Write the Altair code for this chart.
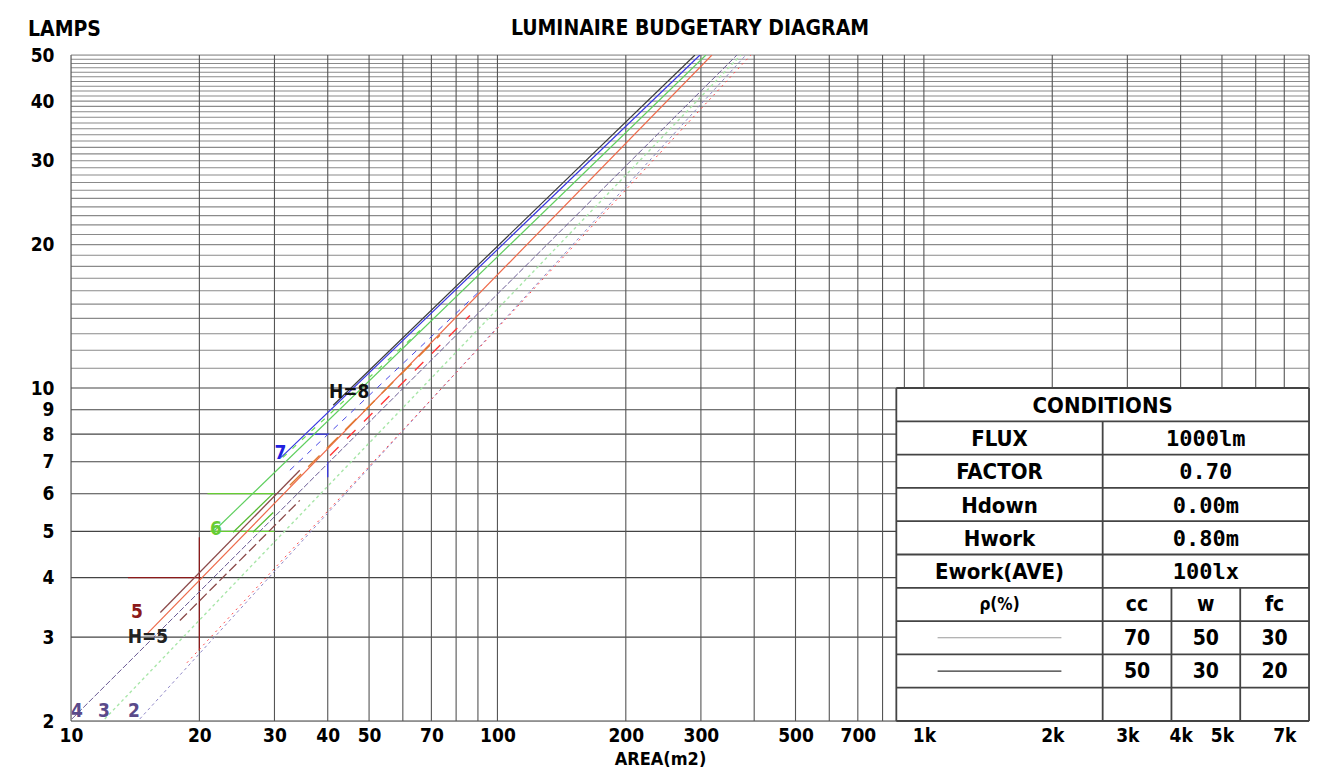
import altair as alt
import pandas as pd

FONT = "DejaVu Sans Condensed, DejaVu Sans, sans-serif"
MONO = "DejaVu Sans Mono, monospace"
W, H = 1238, 666

# ---------------- data ----------------
chart_title = "LUMINAIRE BUDGETARY DIAGRAM"
x_grid = [10, 20, 30, 40, 50, 60, 70, 80, 90, 100, 200, 300, 400, 500, 600, 700, 800, 900,
          1000, 2000, 3000, 4000, 5000, 6000, 7000, 8000]
y_grid = list(range(2, 51))
x_ticks = [10, 20, 30, 40, 50, 70, 100, 200, 300, 500, 700, 1000, 2000, 3000, 4000, 5000, 7000]
y_ticks = [2, 3, 4, 5, 6, 7, 8, 9, 10, 20, 30, 40, 50]

# diagonal curves: (area, lamps) end points
line_names = ["H8", "H7", "H6", "H5", "H4", "H3", "H2", "H2b",
              "E1", "E2", "E3", "E4", "E5", "E6", "E7", "E8"]
line_area = [[41.2, 290.5], [31.1, 298.5], [21.5, 308.3], [15.1, 318.4],
             [10.05, 364.4], [12.0, 372.3], [14.5, 382.5], [18.7, 393.0],
             [32.6, 91.0], [32.6, 73.3], [40.5, 86.2], [16.2, 34.4],
             [18.0, 34.4], [24.0, 29.8], [26.7, 29.8], [31.4, 65.8]]
line_lamps = [[9.20, 50], [7.15, 50], [4.98, 50], [3.05, 50],
              [2.02, 50], [2.02, 50], [2.02, 50], [2.65, 50],
              [6.72, 16.0], [6.25, 12.9], [7.22, 14.2], [3.38, 6.72],
              [3.25, 5.81], [4.98, 6.01], [4.98, 5.48], [7.15, 13.2]]

# step markers (horizontal / vertical)
step_names = ["h5h", "h5v", "h6a", "h6b", "h7v", "h7h"]
step_area = [[13.6, 20], [20, 20], [21.2, 30], [20.9, 30], [40, 40], [36, 40]]
step_lamps = [[4, 4], [2.81, 4.86], [5, 5], [6, 6], [6.5, 7], [8, 8]]

# curve labels
label_text = ["4", "3", "2", "5", "H=5", "6", "7", "H=8"]
label_area = [10.33, 11.95, 14.05, 14.28, 15.15, 21.88, 31.0, 44.9]
label_lamps = [2.10, 2.10, 2.10, 3.38, 3.00, 5.07, 7.29, 9.80]

# conditions table
cond_keys = ["FLUX", "FACTOR", "Hdown", "Hwork", "Ework(AVE)"]
cond_vals = ["1000lm", "0.70", "0.00m", "0.80m", "100lx"]
rho_heads = ["cc", "w", "fc"]
rho_row1 = ["70", "50", "30"]
rho_row2 = ["50", "30", "20"]

# ---------------- styles ----------------
LINE_STYLE = {
    "H8": ("#3a3a3a", 1.2, None),
    "H7": ("#3535e0", 1.2, None),
    "H6": ("#5fcf5f", 1.2, None),
    "H5": ("#ee6a4a", 1.2, None),
    "H4": ("#6b5b95", 1.0, [6, 2]),
    "H3": ("#a8e6a8", 1.4, [3, 3]),
    "H2": ("#9088c8", 1.0, [3, 3]),
    "H2b": ("#ff4a4a", 1.0, [2, 4]),
    "E1": ("#4a4ae6", 1.0, [6, 6]),
    "E2": ("#e07a30", 1.4, [16, 10]),
    "E3": ("#ff3a3a", 1.4, [12, 12]),
    "E4": ("#8b4a4a", 1.3, None),
    "E5": ("#8b4a4a", 1.3, [10, 4]),
    "E6": ("#55bb33", 1.3, None),
    "E7": ("#55bb33", 1.3, None),
    "E8": ("#66dd55", 1.2, [5, 8]),
}
STEP_STYLE = {
    "h5h": "#8b1a1a", "h5v": "#8b1a1a", "h6a": "#66cc33", "h6b": "#66cc33",
    "h7v": "#3535e0", "h7h": "#3535e0",
}
LABEL_STYLE = {
    "4": "#5a4a8a", "3": "#5a4a8a", "2": "#5a4a8a", "5": "#8b1a1a", "H=5": "#222222",
    "6": "#66cc33", "7": "#2020e0", "H=8": "#111111",
}

xs = alt.Scale(type="log", domain=[10, 8000], nice=False)
ys = alt.Scale(type="log", domain=[2, 50], nice=False)

x_axis = alt.Axis(values=x_ticks, grid=False, ticks=False, domain=False,
                  labelExpr="datum.value >= 1000 ? (datum.value/1000) + 'k' : '' + datum.value",
                  labelFont=FONT, labelFontSize=19, labelFontWeight="bold", labelColor="#000",
                  labelPadding=5, labelOverlap=False, labelFlush=False,
                  title="AREA(m2)", titleFont=FONT, titleFontSize=18, titleFontWeight="bold",
                  titleX=589, titleY=38, titleBaseline="middle", titleColor="#000")
y_axis = alt.Axis(values=y_ticks, grid=False, ticks=False, domain=False,
                  labelExpr="'' + datum.value",
                  labelFont=FONT, labelFontSize=19, labelFontWeight="bold", labelColor="#000",
                  labelPadding=17, labelOverlap=False, labelFlush=False,
                  title="LAMPS", titleFont=FONT, titleFontSize=21, titleFontWeight="bold",
                  titleAngle=0, titleX=-7, titleY=-26, titleAlign="center",
                  titleBaseline="middle", titleColor="#000")


def X(f):
    return alt.X(f, scale=xs, axis=x_axis)


def Y(f):
    return alt.Y(f, scale=ys, axis=y_axis)


# vertical grid
vg = pd.DataFrame({"A": x_grid, "n0": 2, "n1": 50})
grid_v = alt.Chart(vg).mark_rule(color="#555555", strokeWidth=1.1).encode(
    x=X("A:Q"), y=Y("n0:Q"), y2="n1:Q")
# horizontal grid
hg = pd.DataFrame({"N": y_grid, "a0": 10, "a1": 8000})
grid_h = alt.Chart(hg).mark_rule(strokeWidth=1.1).encode(
    y=Y("N:Q"), x=X("a0:Q"), x2="a1:Q",
    color=alt.condition("datum.N <= 10", alt.value("#444444"), alt.value("#8a8a8a")),
)

layers = [grid_h, grid_v]

for i, name in enumerate(step_names):
    df = pd.DataFrame({"A": step_area[i], "N": step_lamps[i]})
    layers.append(alt.Chart(df).mark_line(color=STEP_STYLE[name], strokeWidth=1.3).encode(
        x=X("A:Q"), y=Y("N:Q")))

for i, name in enumerate(line_names):
    df = pd.DataFrame({"A": line_area[i], "N": line_lamps[i]})
    col, sw, dash = LINE_STYLE[name]
    kw = dict(color=col, strokeWidth=sw, clip=True)
    if dash:
        kw["strokeDash"] = dash
    layers.append(alt.Chart(df).mark_line(**kw).encode(x=X("A:Q"), y=Y("N:Q")))

for i, t in enumerate(label_text):
    df = pd.DataFrame({"A": [label_area[i]], "N": [label_lamps[i]], "t": [t]})
    layers.append(alt.Chart(df).mark_text(font=FONT, fontSize=19, fontWeight="bold",
                                          color=LABEL_STYLE[t], baseline="middle",
                                          align="center").encode(
        x=X("A:Q"), y=Y("N:Q"), text="t:N"))

main = alt.layer(*layers)

# ---------------- table (own linear scales: 18 columns x 20 rows over plot) ----------------
tx = alt.Scale(domain=[0, 18], nice=False, zero=False)
ty = alt.Scale(domain=[0, 20], nice=False, zero=False)


def TX(f):
    return alt.X(f, scale=tx, axis=None)


def TY(f):
    return alt.Y(f, scale=ty, axis=None)


bg = alt.Chart(pd.DataFrame({"x0": [12], "x1": [18], "y0": [0], "y1": [10]})).mark_rect(
    fill="white").encode(x=TX("x0:Q"), x2="x1:Q", y=TY("y0:Q"), y2="y1:Q")

hrows = alt.Chart(pd.DataFrame({"y": list(range(0, 11)), "x0": 12, "x1": 18})).mark_rule(
    color="#444444", strokeWidth=1.8).encode(y=TY("y:Q"), x=TX("x0:Q"), x2="x1:Q")

vcols = alt.Chart(pd.DataFrame({"x": [12, 18, 15, 16, 17], "y0": [0, 0, 0, 0, 0],
                                "y1": [10, 10, 9, 4, 4]})).mark_rule(
    color="#444444", strokeWidth=1.8).encode(x=TX("x:Q"), y=TY("y0:Q"), y2="y1:Q")

t_items = [("CONDITIONS", 15, 9.5, FONT, 22)]
for k, (a, b) in enumerate(zip(cond_keys, cond_vals)):
    t_items.append((a, 13.5, 8.5 - k, FONT, 22))
    t_items.append((b, 16.5, 8.5 - k, MONO, 22))
t_items.append(("ρ(%)", 13.5, 3.5, FONT, 17))
for j in range(3):
    t_items.append((rho_heads[j], 15.5 + j, 3.5, FONT, 21))
    t_items.append((rho_row1[j], 15.5 + j, 2.5, FONT, 21))
    t_items.append((rho_row2[j], 15.5 + j, 1.5, FONT, 21))
# chart title, centred above the plot (row units above the top edge)
t_items.append((chart_title, 9.0, 20.8, FONT, 21))

tlayers = [bg, hrows, vcols]
for (t, x, y, f, s) in t_items:
    df = pd.DataFrame({"x": [x], "y": [y], "t": [t]})
    tlayers.append(alt.Chart(df).mark_text(font=f, fontSize=s, fontWeight="bold", color="#000",
                                           baseline="middle", align="center", dy=1,
                                           clip=False).encode(
        x=TX("x:Q"), y=TY("y:Q"), text="t:N"))

samp = pd.DataFrame({"x0": [12.6, 12.6], "x1": [14.4, 14.4], "y": [2.5, 1.5],
                     "k": ["a", "b"]})
tlayers.append(alt.Chart(samp).mark_rule(strokeWidth=1.2).encode(
    x=TX("x0:Q"), x2="x1:Q", y=TY("y:Q"),
    color=alt.Color("k:N", scale=alt.Scale(domain=["a", "b"], range=["#9a9a9a", "#333333"]),
                    legend=None)))

table = alt.layer(*tlayers)

chart = alt.layer(main, table).resolve_scale(
    x="independent", y="independent", color="independent"
).properties(
    width=W, height=H,
    padding={"left": 63, "top": 47, "right": 11, "bottom": 48},
    autosize=alt.AutoSizeParams(type="none"),
).configure_view(stroke=None).configure(background="white")

chart.save("out.html", embed_options={"renderer": "svg", "actions": False})
